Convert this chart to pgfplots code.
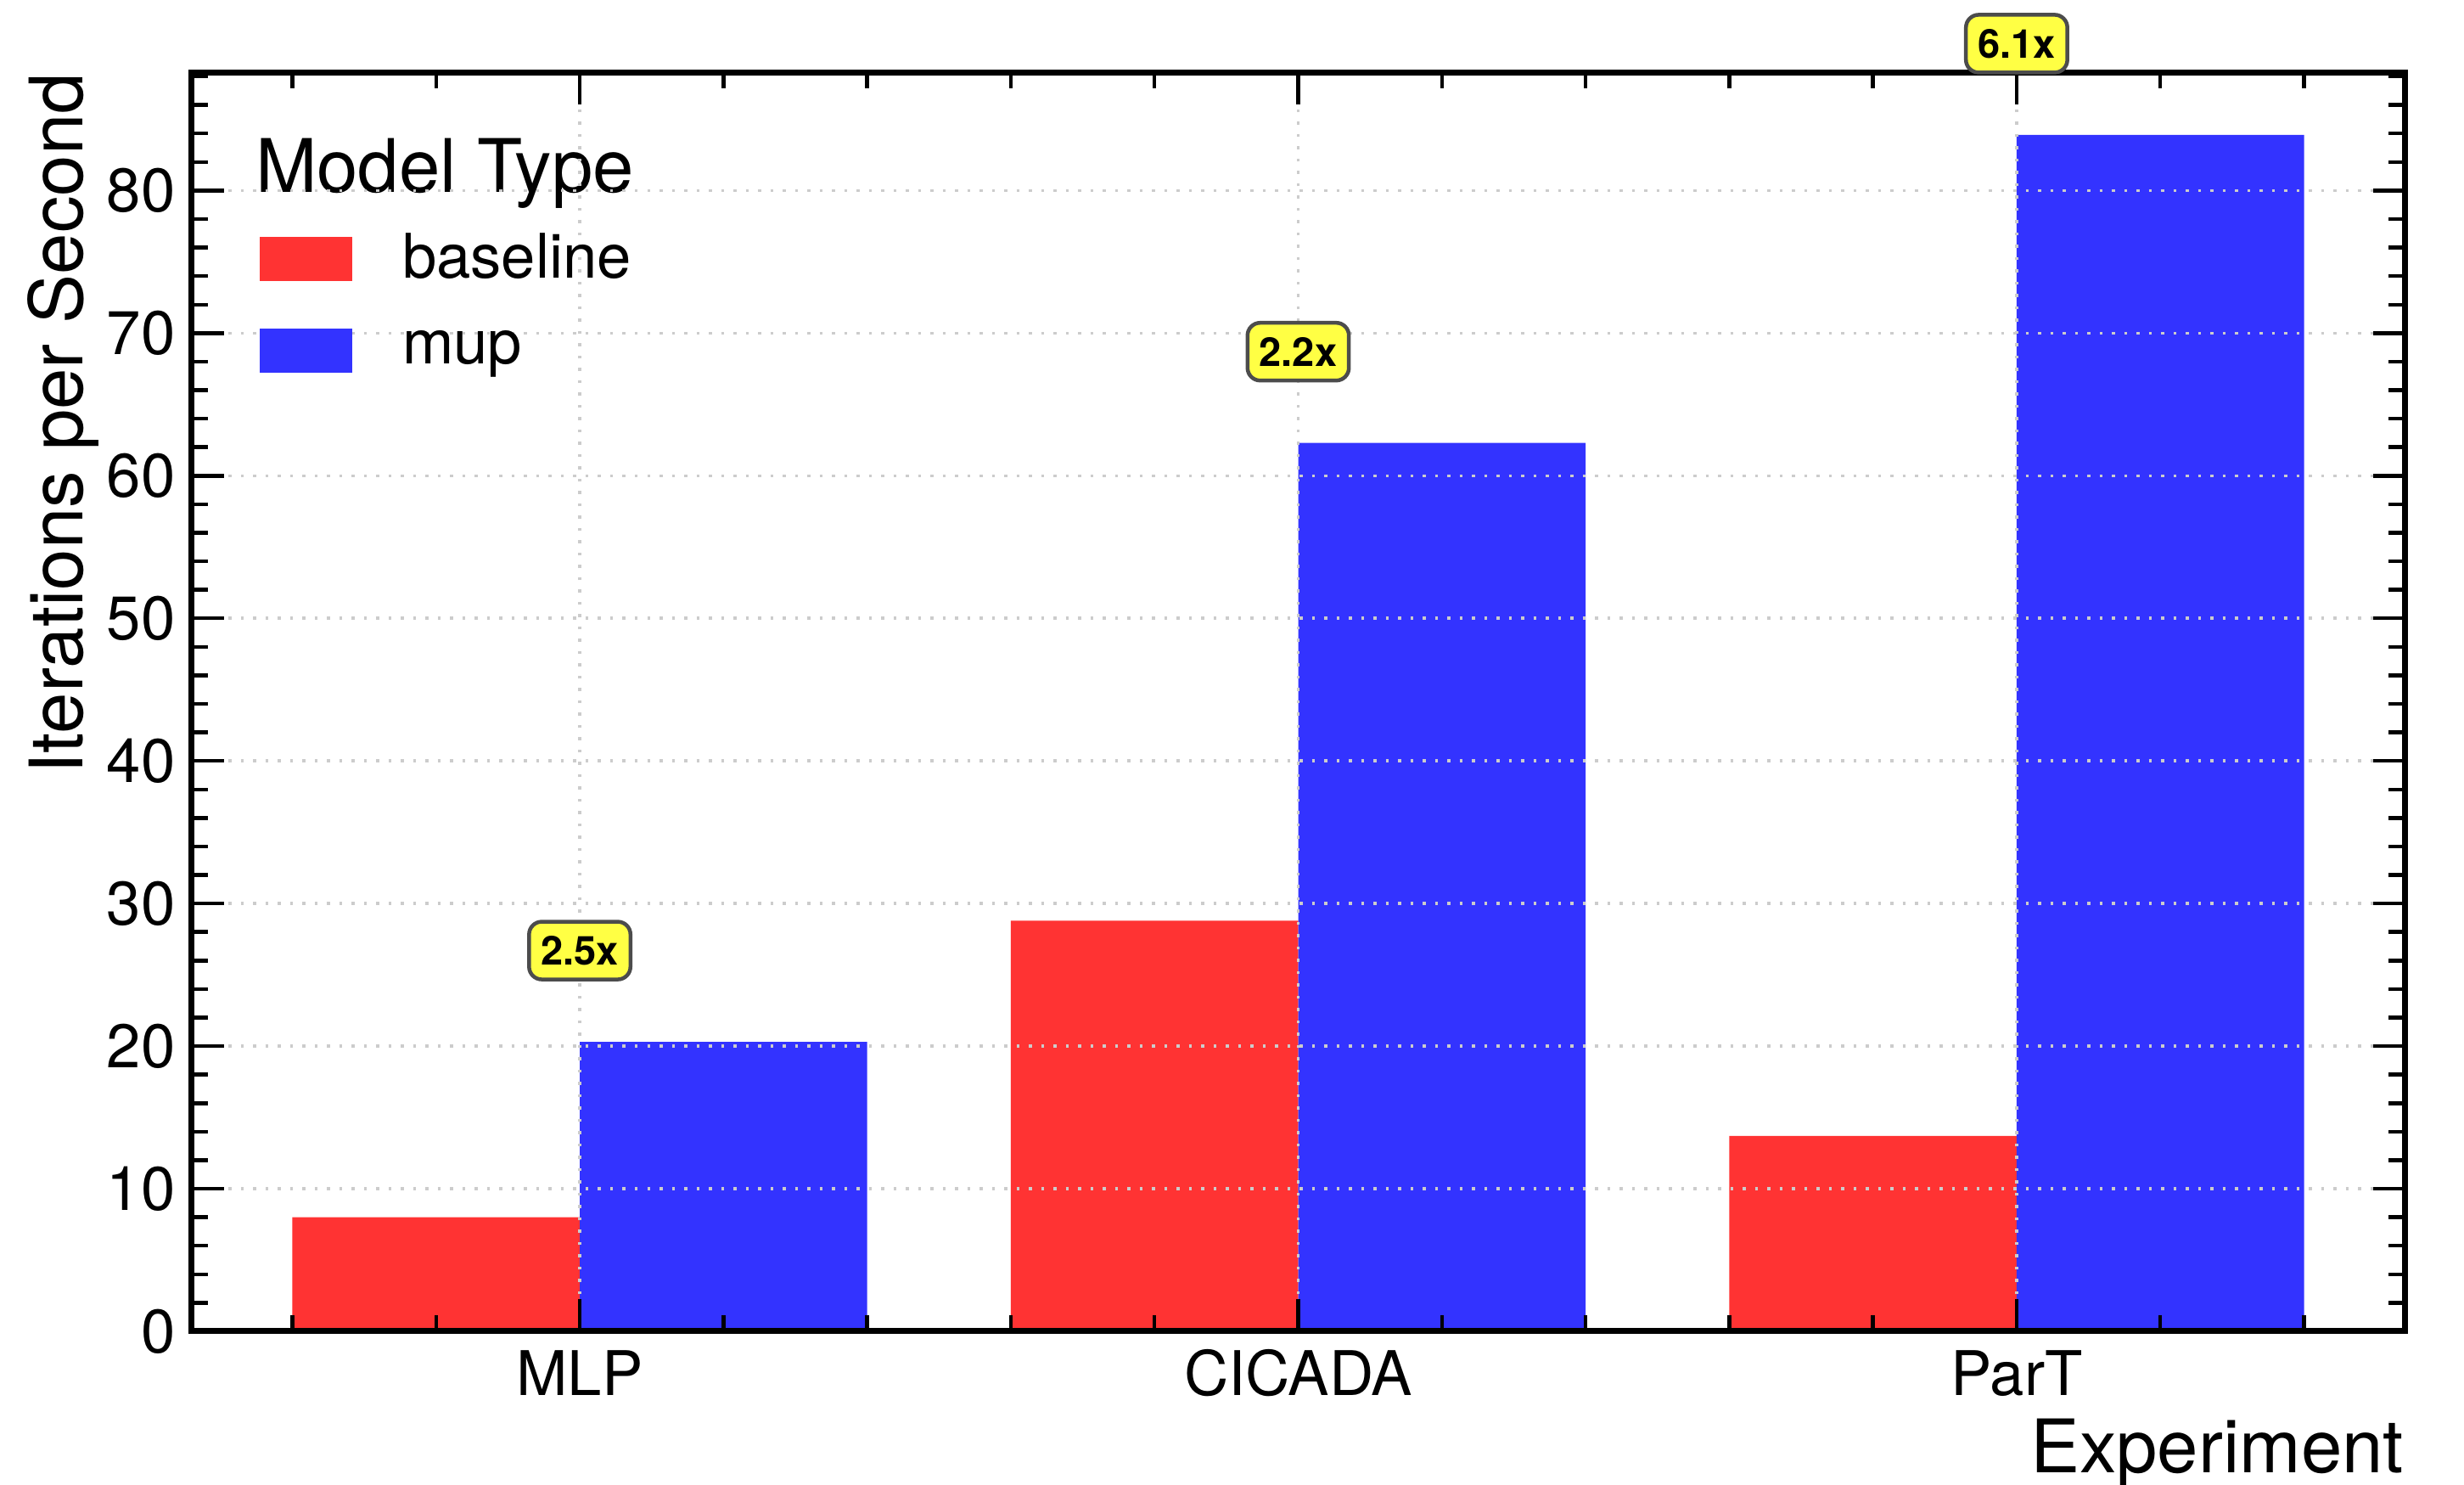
\documentclass[border=0pt]{standalone}
\usepackage{pgfplots}
\pgfplotsset{compat=1.18}
\usepackage{fontspec}
\setmainfont{TeX Gyre Heros}
\definecolor{cred}{RGB}{255,51,51}
\definecolor{cblue}{RGB}{51,51,255}
\definecolor{annoy}{RGB}{255,255,68}
\begin{document}
\begin{tikzpicture}
\begin{axis}[
  scale only axis, width=521.4pt, height=296.6pt,
  xmin=-0.54, xmax=2.54, ymin=0, ymax=88.3,
  xtick={0,1,2}, xticklabels={MLP,CICADA,ParT},
  minor xtick={-0.4,-0.2,0.2,0.4,0.6,0.8,1.2,1.4,1.6,1.8,2.2,2.4},
  ytick={0,10,...,80},
  minor ytick={2,4,...,88},
  tick align=inside, tick pos=both,
  major tick length=7.5pt, minor tick length=3.8pt,
  every tick/.style={black, line width=0.9pt},
  axis line style={line width=1.4pt},
  axis on top,
  grid=major,
  major grid style={black!20, line width=0.7pt, dash pattern=on 0.7pt off 2.2pt},
  clip=false,
  /pgf/number format/assume math mode=true,
  ticklabel style={font=\fontsize{14.5}{17}\selectfont},
  xticklabel style={anchor=base, inner sep=0pt, yshift=-15.2pt},
  yticklabel style={inner sep=0pt, xshift=-3.7pt},
  xlabel={Experiment}, ylabel={Iterations per Second},
  label style={font=\fontsize{17.4}{20}\selectfont},
  xlabel style={at={(axis description cs:1,0)}, anchor=base east, inner sep=0pt, yshift=-33.4pt},
  ylabel style={at={(axis description cs:-0.0583,1)}, anchor=east, inner sep=0pt},
  legend style={at={(axis description cs:0.0305,0.8720)}, anchor=north west,
    draw=none, fill=none, inner sep=0pt, outer sep=0pt,
    column sep=11.9pt, row sep=10.3pt,
    font=\fontsize{14.5}{17}\selectfont,
    nodes={inner sep=0pt}},
  legend cell align=left,
  legend image code/.code={\fill[#1] (0pt,-5.2pt) rectangle (21.8pt,5.2pt);},
]
\addplot[ybar, bar width=0.4, bar shift=-0.2, fill=cred, draw=none]
  coordinates {(0,8.0) (1,28.8) (2,13.7)};
\addlegendentry{baseline}
\addplot[ybar, bar width=0.4, bar shift=0.2, fill=cblue, draw=none]
  coordinates {(0,20.3) (1,62.3) (2,83.9)};
\addlegendentry{mup}
\addplot[draw=none, mark=none, nodes near coords, point meta=explicit symbolic,
  nodes near coords style={anchor=center, fill=annoy, draw=black!70, line width=0.9pt,
    rounded corners=3pt, font=\bfseries\fontsize{9.4}{10}\selectfont,
    inner xsep=2.8pt, inner ysep=3.4pt, text height=6.8pt, text depth=0pt}]
  coordinates {(0,26.7) [2.5x] (1,68.7) [2.2x] (2,90.3) [6.1x]};
\node[anchor=base west, font=\fontsize{17.4}{20}\selectfont, inner sep=0pt]
  at (axis description cs:0.0284,0.9049) {Model Type};
\end{axis}
\pgfresetboundingbox
\path (-45.2pt,-36.2pt) rectangle (535.4pt,313.6pt);
\end{tikzpicture}
\end{document}
